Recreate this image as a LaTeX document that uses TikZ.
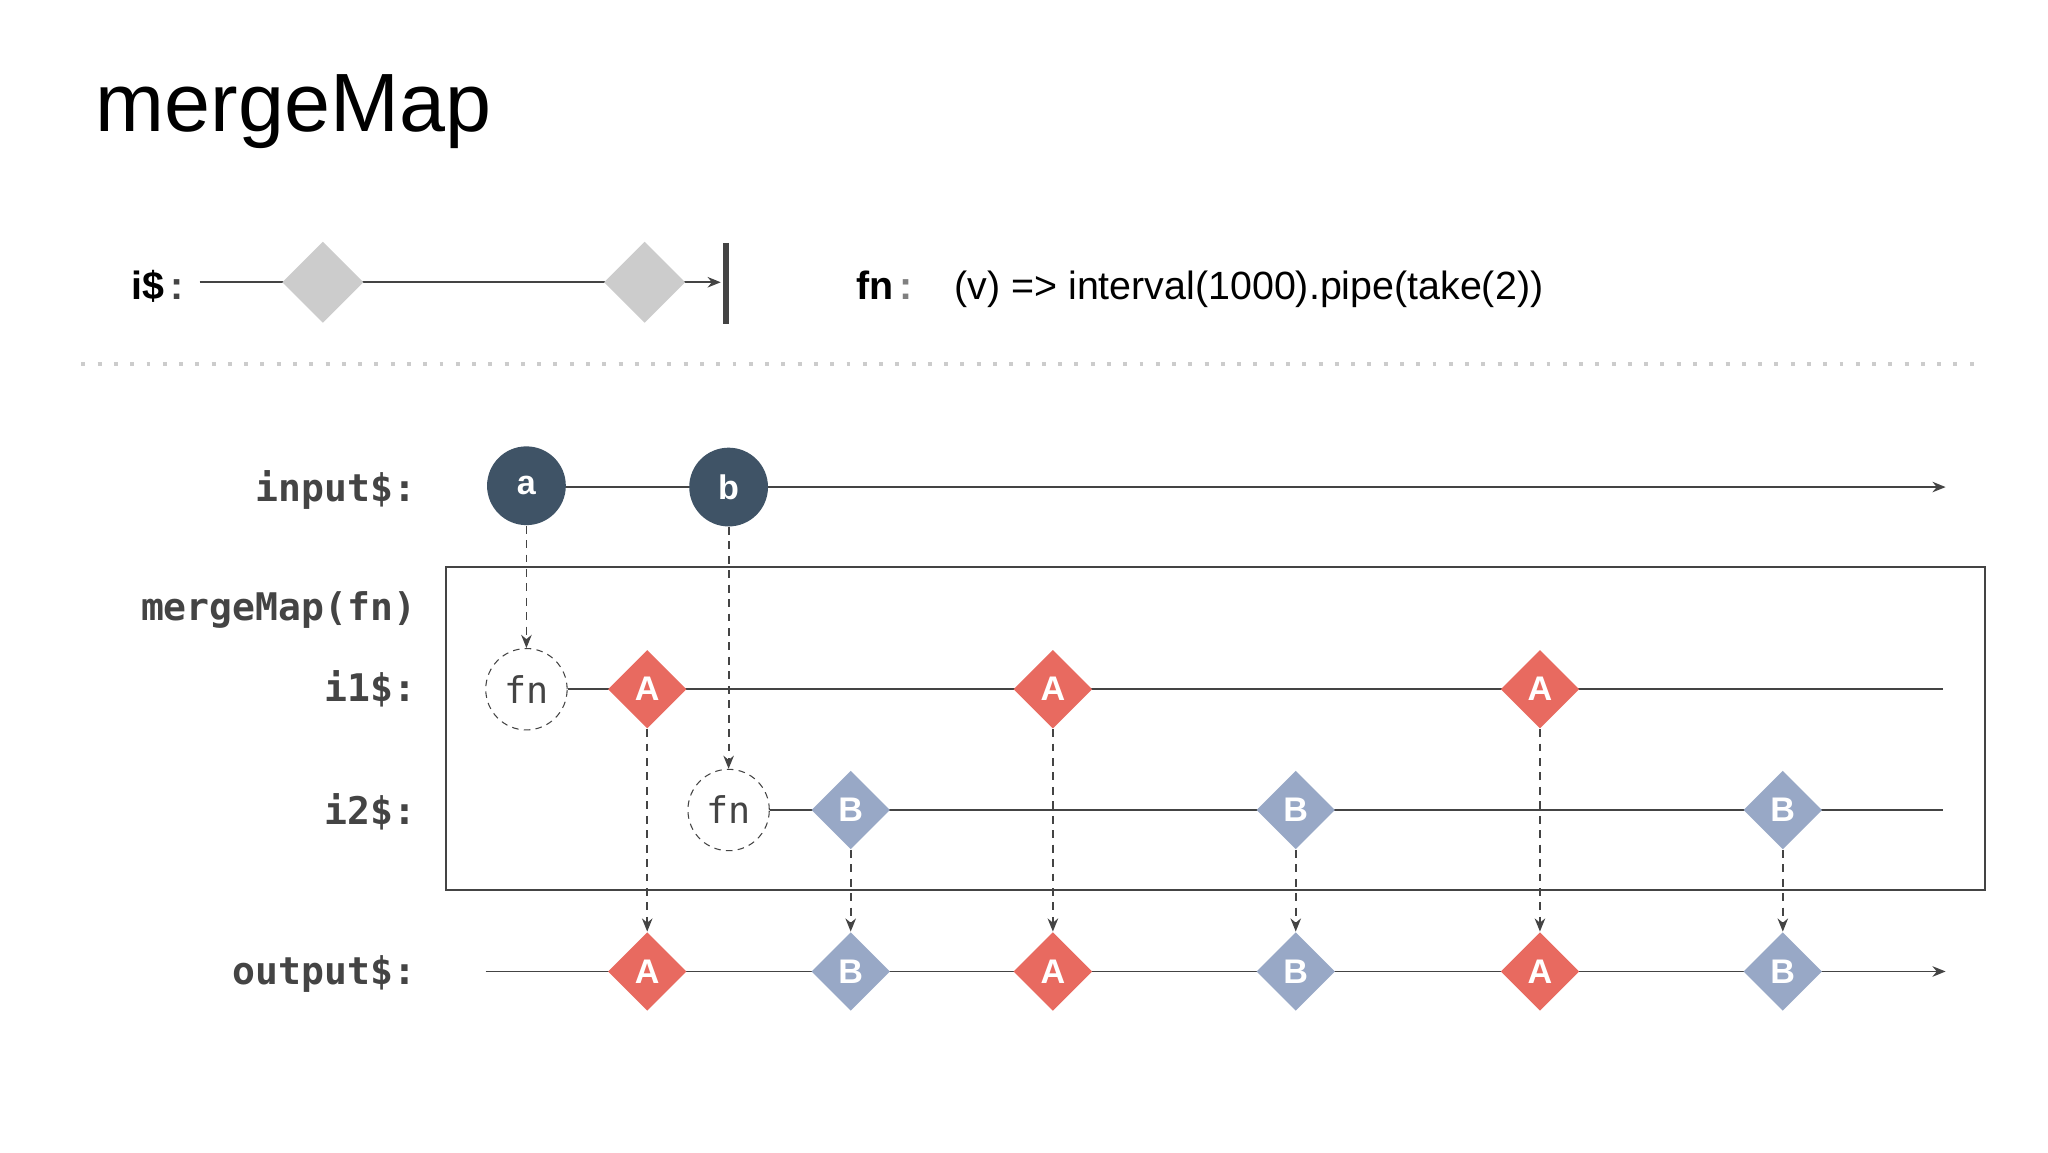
\documentclass[tikz,border=0pt]{standalone}
\usepackage{fontspec}
\setmainfont{Liberation Sans}
\newfontfamily\monof{DejaVu Sans Mono}
\usetikzlibrary{shapes.geometric,arrows.meta}
\definecolor{lab}{HTML}{444444}
\definecolor{navy}{HTML}{3F5366}
\definecolor{redd}{HTML}{E86A60}
\definecolor{blu}{HTML}{98A8C6}
\definecolor{gry}{HTML}{CCCCCC}
\definecolor{ln}{HTML}{444444}
\begin{document}
\begin{tikzpicture}[x=0.5pt,y=-0.5pt,
  lbl/.style={anchor=east,text=lab,font=\monof\bfseries\fontsize{14.5pt}{16pt}\selectfont},
  tl/.style={draw=ln,line width=0.7pt},
  arr/.style={-{Stealth[length=5pt,width=4pt]}},
  dsh/.style={draw=ln,line width=0.7pt,dash pattern=on 3pt off 2.5pt,-{Stealth[length=5pt,width=4pt]}},
  circ/.style={circle,fill=navy,minimum size=30pt,inner sep=0,text=white,font=\bfseries\fontsize{13pt}{14pt}\selectfont},
  fnc/.style={circle,draw=ln,dash pattern=on 2.5pt off 2pt,fill=white,minimum size=31pt,inner sep=0,font=\monof\fontsize{14pt}{15pt}\selectfont,text=lab},
  dA/.style={diamond,fill=redd,minimum size=30pt,inner sep=0,text=white,font=\bfseries\fontsize{13pt}{14pt}\selectfont},
  dB/.style={diamond,fill=blu,minimum size=30pt,inner sep=0,text=white,font=\bfseries\fontsize{13pt}{14pt}\selectfont},
  dG/.style={diamond,fill=gry,minimum size=31pt,inner sep=0}]
\useasboundingbox[fill=white] (0,0) rectangle (1560,878);
\node[anchor=base west,font=\fontsize{31.5pt}{34pt}\selectfont] (title) at (66,100) {mergeMap};
% i$
\node[anchor=base west,font=\bfseries\fontsize{15pt}{16pt}\selectfont] (il) at (93,228) {i\$\,\textcolor{lab}{:}};
\coordinate (is) at (152,215);
\coordinate (ie) at (549,215);
\draw[tl,arr] (is) -- (ie);
\node[dG] (g1) at (246,215) {};
\node[dG] (g2) at (491,215) {};
\coordinate (bt) at (553,185);
\coordinate (bb) at (553,247);
\draw[ln,line width=2.5pt] (bt) -- (bb);
\node[anchor=base west,font=\bfseries\fontsize{15pt}{16pt}\selectfont] (fnl) at (645,228) {fn\,\textcolor{gray}{:}};
\node[anchor=base west,font=\fontsize{15pt}{16pt}\selectfont] (fnt) at (720,228) {(v) => interval(1000).pipe(take(2))};
% dotted
\coordinate (d1) at (62,277);
\coordinate (d2) at (1512,277);
\draw[gry,line width=1.5pt,dash pattern=on 1.5pt off 4.7pt] (d1) -- (d2);
% labels
\node[lbl] (l1) at (324,373) {input\$:};
\node[lbl] (l2) at (324,465) {mergeMap(fn)};
\node[lbl] (l3) at (324,525) {i1\$:};
\node[lbl] (l4) at (324,618) {i2\$:};
\node[lbl] (l5) at (324,742) {output\$:};
% box
\draw[tl] (340,432) rectangle (1512,678);
% input
\coordinate (ins) at (401,371);
\coordinate (ine) at (1482,371);
\draw[tl,arr] (ins) -- (ine);
\node[circ] (a) at (401,370) {a};
\node[circ] (b) at (555,371) {b};
% i1
\coordinate (i1e) at (1480,525);
\node[fnc] (f1) at (401,525) {fn};
\draw[tl] (f1) -- (i1e);
\node[dA] (a1) at (493,525) {A};
\node[dA] (a2) at (802,525) {A};
\node[dA] (a3) at (1173,525) {A};
% i2
\coordinate (i2e) at (1480,617);
\node[fnc] (f2) at (555,617) {fn};
\draw[tl] (f2) -- (i2e);
\node[dB] (b1) at (648,617) {B};
\node[dB] (b2) at (987,617) {B};
\node[dB] (b3) at (1358,617) {B};
% output
\coordinate (os) at (370,740);
\coordinate (oe) at (1482,740);
\draw[tl,arr] (os) -- (oe);
\node[dA] (oa1) at (493,740) {A};
\node[dB] (ob1) at (648,740) {B};
\node[dA] (oa2) at (802,740) {A};
\node[dB] (ob2) at (987,740) {B};
\node[dA] (oa3) at (1173,740) {A};
\node[dB] (ob3) at (1358,740) {B};
% dashed
\draw[dsh] (a) -- (f1);
\draw[dsh] (b) -- (f2);
\draw[dsh] (a1) -- (oa1);
\draw[dsh] (a2) -- (oa2);
\draw[dsh] (a3) -- (oa3);
\draw[dsh] (b1) -- (ob1);
\draw[dsh] (b2) -- (ob2);
\draw[dsh] (b3) -- (ob3);
\end{tikzpicture}
\end{document}
